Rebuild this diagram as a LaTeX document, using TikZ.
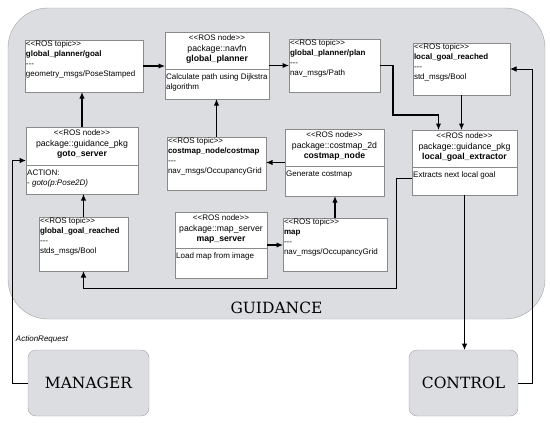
\documentclass[tikz,border=0pt]{standalone}
\usepackage{fontspec}
\setmainfont{Liberation Sans}
\newfontfamily\sysfont{DejaVu Serif}
\usetikzlibrary{arrows.meta, shapes.misc}
\definecolor{guidefill}{HTML}{DCDDE1}
\definecolor{sysedge}{HTML}{A3A3A8}
\definecolor{boxedge}{HTML}{8A8A8A}
\newcommand{\boxsize}{\fontsize{8}{10}\selectfont}
\newcommand{\rosdashes}{-\kern0pt-\kern0pt-}
\newcommand{\stereo}[1]{<\kern0pt<#1>\kern0pt>}

\begin{document}
\begin{tikzpicture}[x=1pt, y=-1pt, font=\boxsize, every node/.style={outer sep=0pt}, line join=miter,
	rosnode/.style={draw=boxedge, fill=white, inner sep=0pt, anchor=north west},
	rostopic/.style={chamfered rectangle, chamfered rectangle corners=north east, chamfered rectangle xsep=3pt, chamfered rectangle ysep=3pt, draw=boxedge, fill=white, inner sep=0pt, anchor=north west},
	head/.style={align=center, anchor=north, inner sep=2.6pt, font=\fontsize{8.7}{10.8}\selectfont},
	body/.style={align=left, anchor=north west, inner xsep=1.2pt, inner ysep=5pt},
	topictext/.style={align=left, anchor=north west, inner xsep=1pt, inner ysep=0.5pt},
	system/.style={draw=sysedge, fill=guidefill, rounded corners=8pt, font=\sysfont\fontsize{15.5}{18}\selectfont, anchor=north west},
	link/.style={-{Latex[length=6.5pt, width=5.5pt]}, line width=1.2pt},
	outlink/.style={link, line width=1pt}]
	\useasboundingbox (0,0) rectangle (550,423);
	
	% GUIDANCE
	\node[system, rounded corners=40pt, minimum width=537pt, minimum height=311pt] (guid) at (8,8) {};
	\node[font=\sysfont\fontsize{15.5}{18}\selectfont, anchor=base] (guid-l) at ([yshift=6pt]guid.south) {GUIDANCE};
	
	% Hàng 1
	\node[rostopic, minimum width=118pt, minimum height=52pt] (goal) at (25,40) {};
	\node[topictext] (goal-t) at (goal.north west) {\stereo{ROS topic}\\\textbf{global\_planner/goal}\\\rosdashes\\geometry\_msgs/PoseStamped};
	
	\node[rosnode, minimum width=104pt, minimum height=67pt] (planner) at (165,32) {};
	\node[head] (planner-h) at (planner.north) {{\boxsize\stereo{ROS node}}\\package::navfn\\\textbf{global\_planner}};
	\draw[boxedge] (planner.west |- 0,69) -- (planner.east |- 0,69);
	\node[body] (planner-b) at (planner.west |- 0,69) {Calculate path using Dijkstra\\algorithm};
	
	\node[rostopic, minimum width=91pt, minimum height=53pt] (plan) at (289,39) {};
	\node[topictext] (plan-t) at (plan.north west) {\stereo{ROS topic}\\\textbf{global\_planner/plan}\\\rosdashes\\nav\_msgs/Path};
	
	\node[rostopic, minimum width=97pt, minimum height=52pt] (lgr) at (413,43) {};
	\node[topictext] (lgr-t) at (lgr.north west) {\stereo{ROS topic}\\\textbf{local\_goal\_reached}\\\rosdashes\\std\_msgs/Bool};
	
	% Hàng 2
	\node[rosnode, minimum width=112pt, minimum height=67pt] (goto) at (26,127) {};
	\node[head] (goto-h) at (goto.north) {{\boxsize\stereo{ROS node}}\\package::guidance\_pkg\\\textbf{goto\_server}};
	\draw[boxedge] (goto.west |- 0,165) -- (goto.east |- 0,165);
	\node[body] (goto-b) at (goto.west |- 0,165) {ACTION:\\- \textit{goto(p:Pose2D)}};
	
	\node[rostopic, minimum width=99pt, minimum height=53pt] (cmt) at (167,137) {};
	\node[topictext] (cmt-t) at (cmt.north west) {\stereo{ROS topic}\\\textbf{costmap\_node/costmap}\\\rosdashes\\nav\_msgs/OccupancyGrid};
	
	\node[rosnode, minimum width=99pt, minimum height=67pt] (cmn) at (285,129) {};
	\node[head] (cmn-h) at (cmn.north) {{\boxsize\stereo{ROS node}}\\package::costmap\_2d\\\textbf{costmap\_node}};
	\draw[boxedge] (cmn.west |- 0,166) -- (cmn.east |- 0,166);
	\node[body] (cmn-b) at (cmn.west |- 0,166) {Generate costmap};
	
	\node[rosnode, minimum width=105pt, minimum height=65pt] (extr) at (412,130) {};
	\node[head] (extr-h) at (extr.north) {{\boxsize\stereo{ROS node}}\\package::guidance\_pkg\\\textbf{local\_goal\_extractor}};
	\draw[boxedge] (extr.west |- 0,167) -- (extr.east |- 0,167);
	\node[body] (extr-b) at (extr.west |- 0,167) {Extracts next local goal};
	
	% Hàng 3
	\node[rostopic, minimum width=89pt, minimum height=54pt] (ggr) at (39,217) {};
	\node[topictext] (ggr-t) at (ggr.north west) {\stereo{ROS topic}\\\textbf{global\_goal\_reached}\\\rosdashes\\stds\_msgs/Bool};
	
	\node[rosnode, minimum width=92pt, minimum height=66pt] (ms) at (175,212) {};
	\node[head] (ms-h) at (ms.north) {{\boxsize\stereo{ROS node}}\\package::map\_server\\\textbf{map\_server}};
	\draw[boxedge] (ms.west |- 0,248) -- (ms.east |- 0,248);
	\node[body] (ms-b) at (ms.west |- 0,248) {Load map from image};
	
	\node[rostopic, minimum width=104pt, minimum height=53pt] (map) at (283,218) {};
	\node[topictext] (map-t) at (map.north west) {\stereo{ROS topic}\\\textbf{map}\\\rosdashes\\nav\_msgs/OccupancyGrid};
	
	% MANAGER, CONTROL
	\node[system, minimum width=121pt, minimum height=66pt] (mgr) at (28,350) {MANAGER};
	\node[system, minimum width=109pt, minimum height=66pt] (ctrl) at (409,350) {CONTROL};
	\node[font=\boxsize\itshape, anchor=west, inner sep=0pt] (req) at (16,339) {ActionRequest};
	
	% Mũi tên
	\coordinate (extr-in) at ([xshift=-26pt]extr.north);
	\draw[link] (goal.east) -- (goal.east -| planner.west);
	\draw[link] (planner.east |- plan.west) -- (plan.west);
	\draw[link] (plan.east) -- ++(13,0) |- (extr-in |- 0,115) -- (extr-in);
	\draw[link] (lgr.south) -- (lgr.south |- extr.north);
	\draw[link] (goto.north) -- (goto.north |- goal.south);
	\draw[link] (cmt.north) -- (cmt.north |- planner.south);
	\draw[link] (cmn.west) -- (cmn.west -| cmt.east);
	\draw[link] (ms.east) -- (ms.east -| map.west);
	\draw[link] (map.north) -- (map.north |- cmn.south);
	\draw[link] (ggr.north) -- (ggr.north |- goto.south);
	\draw[outlink] ([yshift=-16pt]extr.west) -| ++(-16,110) -| (ggr.south);
	\draw[outlink] (extr.south) -- (extr.south |- ctrl.north);
	\draw[outlink] (ctrl.east) -- ++(14,0) |- (lgr.east);
	\draw[outlink] (mgr.west) -- ++(-16,0) |- (goto.west);
	
\end{tikzpicture}
\end{document}
